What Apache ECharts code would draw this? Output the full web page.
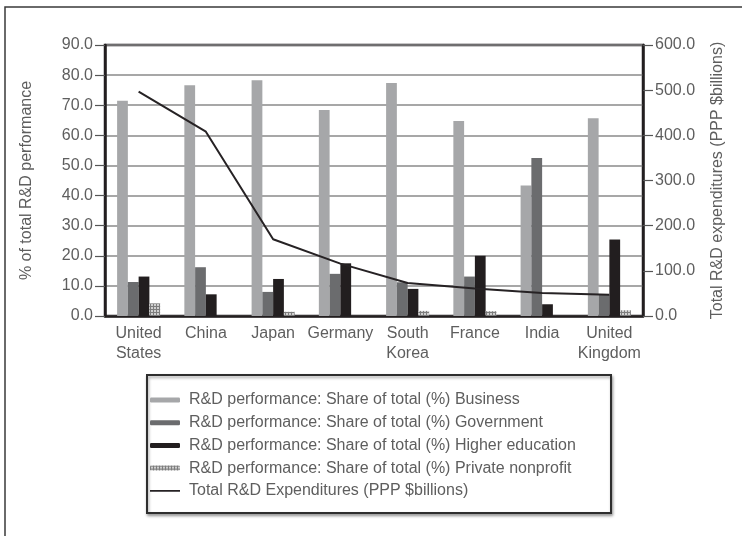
<!DOCTYPE html>
<html>
<head>
<meta charset="utf-8">
<script src="https://cdn.jsdelivr.net/npm/echarts@6/dist/echarts.min.js"></script>
<style>
  html, body { margin: 0; padding: 0; background: #fff; }
  #chart { width: 742px; height: 536px; }
</style>
</head>
<body>
<div id="chart"></div>
<script>
// Countries along the category axis
const countries = ['United\nStates', 'China', 'Japan', 'Germany', 'South\nKorea', 'France', 'India', 'United\nKingdom'];

// Share of total R&D performance by sector (%)
const business = [71.5, 76.6, 78.3, 68.4, 77.4, 64.8, 43.3, 65.7];
const government = [11.3, 16.2, 8.0, 14.0, 11.2, 13.1, 52.5, 7.0];
const higherEducation = [13.1, 7.2, 12.3, 17.5, 9.0, 20.0, 3.9, 25.4];
const privateNonprofit = [4.2, 0, 1.4, 0, 1.7, 1.6, 0, 1.9];

// Total R&D expenditures (PPP $billions)
const totalExpenditures = [497, 408, 170, 116, 73, 61, 51, 47];

// Axis tick settings
const leftTicks = { min: 0, max: 90, interval: 10 };
const rightTicks = { min: 0, max: 600, interval: 100 };

const seriesNames = [
  'R&D performance: Share of total (%) Business',
  'R&D performance: Share of total (%) Government',
  'R&D performance: Share of total (%) Higher education',
  'R&D performance: Share of total (%) Private nonprofit',
  'Total R&D Expenditures (PPP $billions)'
];

const FONT = 'Liberation Sans';
const TEXT = '#5e5e5e';

// Small checked tile used to fill the private nonprofit bars
function checkTile() {
  const c = document.createElement('canvas');
  c.width = 3; c.height = 3;
  const g = c.getContext('2d');
  g.fillStyle = '#cfcfcf';
  g.fillRect(0, 0, 3, 3);
  g.fillStyle = '#7d7d7d';
  g.fillRect(0, 0, 1, 3);
  g.fillRect(0, 0, 3, 1);
  return c;
}
const checkFill = { image: checkTile(), repeat: 'repeat' };

// Thin horizontal stroke for the line entry of the legend (invisible sliver keeps the 5px box)
const lineIcon = 'path://M0,0L0.001,0L0,5Z M0,1.6L30,1.6L30,3.4L0,3.4Z';

const chart = echarts.init(document.getElementById('chart'), null, { renderer: 'canvas' });

const barBase = {
  type: 'bar',
  barGap: '0%',
  barCategoryGap: '36%',
  yAxisIndex: 0
};

const tickStyle = { show: true, length: 10, lineStyle: { color: '#555', width: 1.2 } };

chart.setOption({
  animation: false,
  textStyle: { fontFamily: FONT },
  grid: {
    left: 105, right: 99, top: 45, bottom: 220,
    show: true, borderColor: '#231f20', borderWidth: 2.5, backgroundColor: 'transparent'
  },
  graphic: [
    {
      type: 'rect', silent: true, z: -10,
      shape: { x: 5, y: 7, width: 800, height: 600 },
      style: { fill: '#fff', stroke: '#3a3a3a', lineWidth: 1.5 }
    },
    {
      type: 'rect', silent: true, z: -5,
      shape: { x: 147, y: 375, width: 464, height: 138 },
      style: {
        fill: '#fff', stroke: '#2e2e2e', lineWidth: 2,
        shadowColor: 'rgba(0,0,0,0.35)', shadowBlur: 3, shadowOffsetX: 1, shadowOffsetY: 2
      }
    }
  ],
  legend: {
    orient: 'vertical',
    left: 150, top: 392,
    padding: 0,
    itemWidth: 30, itemHeight: 5, itemGap: 6.7,
    data: seriesNames.slice(0, 4).concat([{ name: seriesNames[4], icon: lineIcon }]),
    textStyle: { fontFamily: FONT, fontSize: 16, color: TEXT, padding: [0, 0, 0, 4] }
  },
  xAxis: {
    type: 'category',
    data: countries,
    axisLine: { lineStyle: { color: '#231f20', width: 2.5 } },
    axisTick: { show: false },
    axisLabel: { color: TEXT, fontSize: 16, fontFamily: FONT, margin: 8, lineHeight: 20, interval: 0 }
  },
  yAxis: [
    {
      type: 'value',
      min: leftTicks.min, max: leftTicks.max, interval: leftTicks.interval,
      name: '% of total R&D performance',
      nameLocation: 'middle', nameGap: 70, nameRotate: 90,
      nameTextStyle: { color: TEXT, fontSize: 16, fontFamily: FONT },
      axisLine: { show: true, lineStyle: { color: '#231f20', width: 2.5 } },
      axisTick: tickStyle,
      axisLabel: { color: TEXT, fontSize: 16, fontFamily: FONT, margin: 12, formatter: v => v.toFixed(1) },
      splitLine: { show: true, lineStyle: { color: '#8a8a8a', width: 1.5 } }
    },
    {
      type: 'value',
      position: 'right',
      min: rightTicks.min, max: rightTicks.max, interval: rightTicks.interval,
      name: 'Total R&D expenditures (PPP $billions)',
      nameLocation: 'middle', nameGap: 67, nameRotate: 90,
      nameTextStyle: { color: TEXT, fontSize: 16, fontFamily: FONT },
      axisLine: { show: true, lineStyle: { color: '#231f20', width: 2.5 } },
      axisTick: tickStyle,
      axisLabel: { color: TEXT, fontSize: 16, fontFamily: FONT, margin: 12, formatter: v => v.toFixed(1) },
      splitLine: { show: false }
    }
  ],
  series: [
    Object.assign({}, barBase, { name: seriesNames[0], data: business, itemStyle: { color: '#a6a7a9' } }),
    Object.assign({}, barBase, { name: seriesNames[1], data: government, itemStyle: { color: '#6b6c6e' } }),
    Object.assign({}, barBase, { name: seriesNames[2], data: higherEducation, itemStyle: { color: '#221e1f' } }),
    Object.assign({}, barBase, { name: seriesNames[3], data: privateNonprofit, itemStyle: { color: checkFill } }),
    {
      type: 'line',
      name: seriesNames[4],
      yAxisIndex: 1,
      data: totalExpenditures,
      symbol: 'none',
      lineStyle: { color: '#262224', width: 2 },
      itemStyle: { color: '#262224' },
      z: 5
    }
  ]
});
</script>
</body>
</html>
